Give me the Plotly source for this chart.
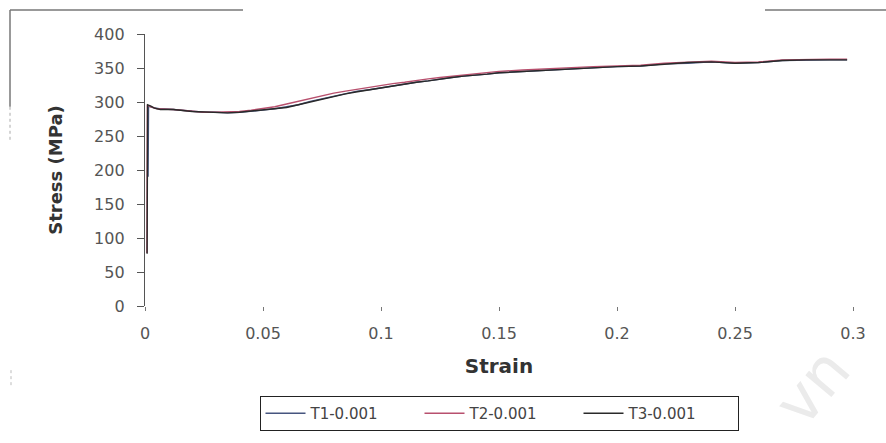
import plotly.graph_objects as go

# ---- data ----
strain_t1 = [0.0013, 0.0015, 0.003, 0.006, 0.012, 0.02, 0.025, 0.03, 0.035, 0.04, 0.045, 0.05, 0.055,
             0.06, 0.065, 0.07, 0.075, 0.08, 0.085, 0.09, 0.095, 0.1, 0.105, 0.11, 0.115, 0.12, 0.125,
             0.13, 0.135, 0.14, 0.145, 0.15, 0.16, 0.17, 0.18, 0.19, 0.2, 0.21, 0.22, 0.23, 0.24,
             0.25, 0.26, 0.27, 0.28, 0.29, 0.2975]
stress_t1 = [190, 294, 292, 290, 289, 287, 285, 285, 284, 285, 286, 288, 290,
             293, 296, 301, 305, 309, 312, 316, 318, 321, 324, 326, 329, 331, 334,
             336, 338, 339, 341, 343, 345, 347, 349, 350, 352, 353, 356, 357, 359,
             357, 358, 361, 362, 362, 362]

strain_t2 = [0.0008, 0.001, 0.0025, 0.005, 0.012, 0.02, 0.025, 0.03, 0.035, 0.04, 0.045, 0.05, 0.055,
             0.06, 0.065, 0.07, 0.075, 0.08, 0.085, 0.09, 0.095, 0.1, 0.105, 0.11, 0.115, 0.12, 0.125,
             0.13, 0.135, 0.14, 0.145, 0.15, 0.16, 0.17, 0.18, 0.19, 0.2, 0.21, 0.22, 0.23, 0.24,
             0.25, 0.26, 0.27, 0.28, 0.29, 0.2975]
stress_t2 = [78, 295, 293, 290, 289, 287, 285, 285, 285, 286, 288, 290, 293,
             297, 301, 306, 310, 313, 316, 319, 322, 325, 327, 329, 332, 334, 336,
             338, 340, 341, 343, 345, 347, 349, 351, 352, 353, 354, 357, 359, 360,
             358, 359, 362, 363, 363, 363]

strain_t3 = [0.0009, 0.0011, 0.0025, 0.004, 0.0065, 0.012, 0.02, 0.025, 0.03, 0.035, 0.04, 0.045, 0.05,
             0.055, 0.06, 0.065, 0.07, 0.075, 0.08, 0.085, 0.09, 0.095, 0.1, 0.105, 0.11, 0.115, 0.12,
             0.125, 0.13, 0.135, 0.14, 0.145, 0.15, 0.16, 0.17, 0.18, 0.19, 0.2, 0.21, 0.22, 0.23,
             0.24, 0.25, 0.26, 0.27, 0.28, 0.29, 0.2975]
stress_t3 = [77, 296, 294, 291, 289, 289, 286, 285, 285, 284, 285, 287, 288,
             290, 292, 296, 300, 305, 309, 312, 315, 318, 321, 323, 326, 329, 331,
             334, 336, 338, 339, 341, 343, 345, 347, 349, 351, 352, 353, 356, 358,
             359, 357, 358, 361, 362, 362, 362]

series_names = ["T1-0.001", "T2-0.001", "T3-0.001"]
series_colors = ["#46557f", "#b8506e", "#2a2a2a"]

x_ticks = [0, 0.05, 0.1, 0.15, 0.2, 0.25, 0.3]
x_tick_text = ["0", "0.05", "0.1", "0.15", "0.2", "0.25", "0.3"]
y_ticks = [0, 50, 100, 150, 200, 250, 300, 350, 400]

# ---- figure ----
W, H = 886, 443
L, R, T, B = 145, 33, 34, 125
PW, PH = W - L - R, H - T - B


def px(x):
    return (x - L) / PW


def py(y):
    return (H - B - y) / PH


FONT = "DejaVu Sans, Verdana, sans-serif"

fig = go.Figure()
for sx, sy, name, col in [(strain_t1, stress_t1, series_names[0], series_colors[0]),
                          (strain_t2, stress_t2, series_names[1], series_colors[1]),
                          (strain_t3, stress_t3, series_names[2], series_colors[2])]:
    fig.add_trace(go.Scatter(x=sx, y=sy, mode="lines", name=name,
                             line=dict(color=col, width=1.4)))

axis_font = dict(family=FONT, size=16, color="#555555")

fig.update_layout(
    width=W, height=H,
    margin=dict(l=L, r=R, t=T, b=B),
    paper_bgcolor="white", plot_bgcolor="white",
    showlegend=True,
    legend=dict(orientation="h", x=0.5, xanchor="center", y=py(412), yanchor="top",
                bordercolor="#222222", borderwidth=1, bgcolor="white",
                font=dict(family=FONT, size=15, color="#444444"),
                entrywidth=104, entrywidthmode="pixels", itemwidth=40,
                tracegroupgap=0),
    xaxis=dict(range=[0, 0.3], tickvals=x_ticks, ticktext=x_tick_text,
               showgrid=False, zeroline=False, showline=False,
               ticks="outside", ticklen=4, tickcolor="#777777",
               tickfont=axis_font, ticklabelstandoff=9,
               title=dict(text="<b>Strain</b>", standoff=16,
                          font=dict(family=FONT, size=20, color="#333333"))),
    yaxis=dict(range=[0, 400], tickvals=y_ticks,
               showgrid=False, zeroline=False, showline=True, linecolor="#555555", linewidth=1.3,
               ticks="outside", ticklen=7, tickcolor="#555555",
               tickfont=axis_font, ticklabelstandoff=9,
               title=dict(text="<b>Stress (MPa)</b>", standoff=26,
                          font=dict(family=FONT, size=18, color="#333333"))),
    shapes=[
        dict(type="line", xref="paper", yref="paper", x0=px(10), x1=px(243), y0=py(9), y1=py(9),
             line=dict(color="#777777", width=1.5)),
        dict(type="line", xref="paper", yref="paper", x0=px(765), x1=px(886), y0=py(9), y1=py(9),
             line=dict(color="#777777", width=1.5)),
        dict(type="line", xref="paper", yref="paper", x0=px(10), x1=px(10), y0=py(9), y1=py(110),
             line=dict(color="#777777", width=1.5)),
        dict(type="line", xref="paper", yref="paper", x0=px(10), x1=px(10), y0=py(110), y1=py(145),
             line=dict(color="#aaaaaa", width=1, dash="dot")),
        dict(type="line", xref="paper", yref="paper", x0=px(11), x1=px(11), y0=py(385), y1=py(402),
             line=dict(color="#bbbbbb", width=1, dash="dot")),
    ],
    annotations=[
        dict(text="vn", xref="paper", yref="paper", x=px(812), y=py(402),
             xanchor="center", yanchor="middle", showarrow=False,
             textangle=-50, font=dict(family=FONT, size=62, color="#ebebeb")),
    ],
)

fig.write_html("out.html")
